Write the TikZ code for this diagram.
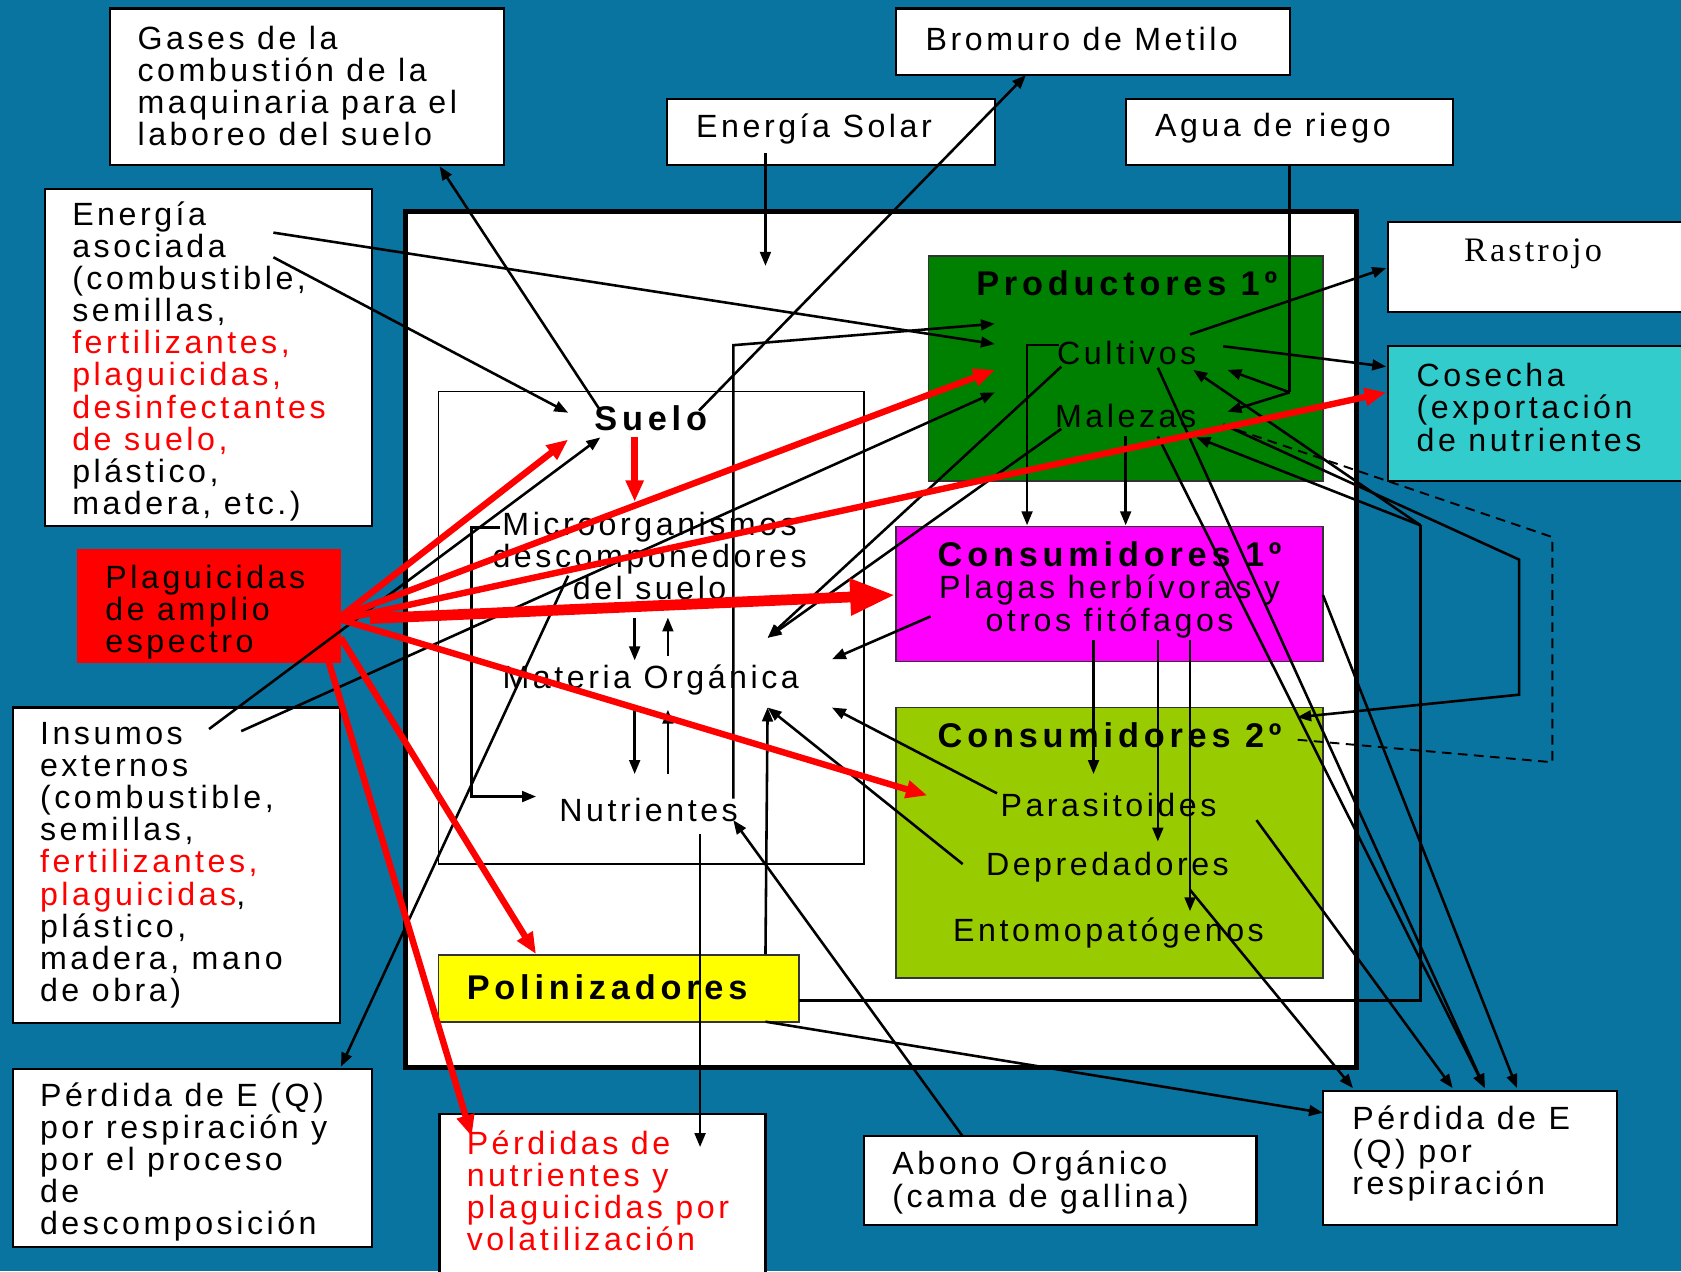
\documentclass[tikz,border=0pt]{standalone}
\usepackage{fontspec}
\setmainfont{Liberation Sans}[LetterSpace=11]
\newfontfamily\boldsf{Liberation Sans}[LetterSpace=14]
\newfontfamily\serifls{Liberation Serif}[LetterSpace=9]
\usetikzlibrary{arrows.meta,fit}
\definecolor{bg}{RGB}{9,116,160}
\definecolor{prodgreen}{RGB}{0,128,0}
\definecolor{cmag}{RGB}{255,0,255}
\definecolor{cgreen}{RGB}{153,204,0}
\definecolor{cteal}{RGB}{51,204,204}
\definecolor{cyel}{RGB}{255,255,0}
\definecolor{pred}{RGB}{255,0,0}
\begin{document}
\begin{tikzpicture}[x=0.5pt,y=-0.5pt,
  box/.style={draw=black, line width=1pt, fill=white, inner sep=0pt},
  cbox/.style={draw=black!80, line width=0.8pt, inner sep=0pt},
  txt/.style={font=\fontsize{15}{15}\selectfont, align=left, inner sep=0pt, anchor=west, yshift=-1.5pt},
  ctxt/.style={font=\fontsize{15}{15}\selectfont, align=center, inner sep=0pt, yshift=-0.8pt},
  btxt/.style={font=\boldsf\bfseries\fontsize{16}{16}\selectfont, inner sep=0pt},
  ln/.style={line width=1.2pt},
  arr/.style={line width=1.2pt, -{Triangle[length=6.5pt,width=5pt]}},
  rarr/.style={draw=pred, line width=3pt, -{Triangle[length=10pt,width=8pt]}},
  bigrarr/.style={draw=pred, line width=5pt, -{Triangle[length=21pt,width=16pt]}},
  dsh/.style={line width=0.9pt, dash pattern=on 4.5pt off 3pt}
]
\useasboundingbox (0,0) rectangle (1568,1186);
\fill[bg] (0,0) rectangle (1568,1186);

% ---------- outer boxes ----------
\node[box, fit={(103,8) (470,154)}] (gases) {};
\node[box, fit={(836,8) (1203,70)}] (bromuro) {};
\node[box, fit={(622,92) (928,154)}] (solar) {};
\node[box, fit={(1050,92) (1355,154)}] (agua) {};
\node[box, fit={(42,176) (347,491)}] (easoc) {};
\node[fill=pred, inner sep=0pt, fit={(72,512) (318,618)}] (plag) {};
\node[box, fit={(12,660) (317,954)}] (insumos) {};
\node[box, fit={(12,997) (347,1163)}] (perdL) {};
\node[box, fit={(410,1039) (714,1195)}] (perdN) {};
\node[box, fit={(806,1060) (1172,1143)}] (abono) {};
\node[box, fit={(1234,1018) (1508,1143)}] (perdR) {};
\node[box, fit={(1295,207) (1580,291)}] (rastrojo) {};
\node[box, fill=cteal, fit={(1295,323) (1580,449)}] (cosecha) {};

\node[txt] (gases-t) at (128,77) {Gases de la\\combustión de la\\maquinaria para el\\laboreo del suelo};
\node[txt] (bromuro-t) at (863,33) {Bromuro de Metilo};
\node[txt] (solar-t) at (649,117) {Energía Solar};
\node[txt] (agua-t) at (1077,117) {Agua de riego};
\node[txt] (easoc-t) at (67,334) {Energía\\asociada\\(combustible,\\semillas,\\\textcolor{pred}{fertilizantes,}\\\textcolor{pred}{plaguicidas,}\\\textcolor{pred}{desinfectantes}\\\textcolor{pred}{de suelo,}\\plástico,\\madera, etc.)};
\node[txt] (plag-t) at (98,568) {Plaguicidas\\de amplio\\espectro};
\node[txt] (insumos-t) at (37,804) {Insumos\\externos\\(combustible,\\semillas,\\\textcolor{pred}{fertilizantes,}\\\textcolor{pred}{plaguicidas},\\plástico,\\madera, mano\\de obra)};
\node[txt] (perdL-t) at (37,1081) {Pérdida de E (Q)\\por respiración y\\por el proceso\\de\\descomposición};
\node[txt, text=pred] (perdN-t) at (435,1108) {Pérdidas de\\nutrientes y\\plaguicidas por\\volatilización};
\node[txt] (abono-t) at (832,1100) {Abono Orgánico\\(cama de gallina)};
\node[txt] (perdR-t) at (1261,1073) {Pérdida de E\\(Q) por\\respiración};
\node[font=\serifls\fontsize{16}{16}\selectfont, inner sep=0pt] (rastrojo-t) at (1430,237) {Rastrojo};
\node[txt] (cosecha-t) at (1321,377) {Cosecha\\(exportación\\de nutrientes};

% ---------- system ----------
\node[draw=black, line width=2.5pt, fill=white, inner sep=0pt, fit={(378,197) (1265,996)}] (sys) {};
\node[draw=black, line width=0.7pt, inner sep=0pt, fit={(409,365) (806,806)}] (soil) {};
\node[cbox, fill=prodgreen, fit={(866,239) (1234,449)}] (prod) {};
\node[cbox, fill=cmag, fit={(836,491) (1234,617)}] (cons1) {};
\node[cbox, fill=cgreen, fit={(836,660) (1234,912)}] (cons2) {};
\node[cbox, fill=cyel, fit={(409,891) (745,953)}] (polin) {};

\node[btxt] (prod-t) at (1051,264) {Productores 1º};
\node[ctxt] (cultivos) at (1051,328) {Cultivos};
\node[ctxt] (malezas) at (1050,386) {Malezas};
\node[btxt] (cons1-t) at (1035,517) {Consumidores 1º};
\node[ctxt, font=\fontsize{15}{15.5}\selectfont] (plagas) at (1035,564) {Plagas herbívoras y\\otros fitófagos};
\node[btxt] (cons2-t) at (1035,686) {Consumidores 2º};
\node[ctxt] (parasit) at (1034,749) {Parasitoides};
\node[ctxt] (depred) at (1033,807) {Depredadores};
\node[ctxt] (entomo) at (1034,869) {Entomopatógenos};
\node[btxt, anchor=west] (polin-t) at (435,921) {Polinizadores};
\node[btxt] (suelo) at (607,390) {Suelo};
\node[ctxt, font=\fontsize{15}{14.8}\selectfont] (micro) at (606,517) {Microorganismos\\descomponedores\\del suelo};
\node[ctxt] (materia) at (607,633) {Materia Orgánica};
\node[ctxt] (nutri) at (605,754) {Nutrientes};

% ---------- coordinates ----------
\coordinate (ea1) at (255,217);  \coordinate (pr-a) at (928,321);
\coordinate (ea2) at (255,240);  \coordinate (su-a) at (530,385);
\coordinate (in1) at (195,680);  \coordinate (su-b) at (560,408);
\coordinate (in2) at (225,682);  \coordinate (pr-b) at (928,366);
\coordinate (su-c) at (560,383); \coordinate (ga-b) at (410,155);
\coordinate (su-d) at (652,383); \coordinate (br-b) at (957,70);
\coordinate (so-b) at (714,143); \coordinate (so-e) at (714,248);
\coordinate (ag-b) at (1203,154); \coordinate (ag-j) at (1203,366);
\coordinate (cu-r) at (1145,345); \coordinate (ma-r) at (1145,384);
\coordinate (nu-v) at (684,745); \coordinate (nu-t) at (684,322); \coordinate (pr-c) at (928,302);
\coordinate (mi-l) at (466,492); \coordinate (l1) at (440,492); \coordinate (l2) at (440,743); \coordinate (nu-l) at (500,743);
\coordinate (a1s) at (592,576); \coordinate (a1e) at (592,616);
\coordinate (a2s) at (623,612); \coordinate (a2e) at (623,576);
\coordinate (a3s) at (592,662); \coordinate (a3e) at (592,722);
\coordinate (a4s) at (623,722); \coordinate (a4e) at (623,662);
\coordinate (nu-b) at (653,778); \coordinate (pn-t) at (653,1070);
\coordinate (mi-b) at (530,537); \coordinate (pl-t) at (318,995);
\coordinate (cu-d) at (990,342); \coordinate (ma-d) at (990,400); \coordinate (mo-a) at (716,595);
\coordinate (pg-l) at (868,575); \coordinate (mo-b) at (776,615);
\coordinate (pa-l) at (930,740); \coordinate (mo-c) at (776,660);
\coordinate (de-l) at (898,806); \coordinate (mo-d) at (716,660);
\coordinate (po-t) at (714,890);
\coordinate (ab-t) at (898,1060); \coordinate (nu-r) at (684,765);
\coordinate (po-b) at (714,953); \coordinate (pr-l) at (1234,1038);
\coordinate (po-r) at (745,933); \coordinate (p1) at (1325,933); \coordinate (p2) at (1325,490);
\coordinate (cu-x) at (1113,345); \coordinate (ma-x) at (1116,408);
\coordinate (ma-s) at (1141,396); \coordinate (q1) at (1417,522); \coordinate (q2) at (1417,648); \coordinate (c2-a) at (1210,669);
\coordinate (ma-t) at (1154,401); \coordinate (d1) at (1448,501); \coordinate (d2) at (1448,711); \coordinate (c2-b) at (1210,690);
\coordinate (cu-c) at (1141,323); \coordinate (co-a) at (1293,342);
\coordinate (cu-ra) at (1110,312); \coordinate (ra-a) at (1293,250);
\coordinate (cu-l) at (988,322); \coordinate (k1) at (958,322); \coordinate (c1-a) at (958,490);
\coordinate (ma-b) at (1050,407); \coordinate (c1-b) at (1050,490);
\coordinate (pg-1) at (1020,597); \coordinate (pa-t) at (1020,722);
\coordinate (pg-2) at (1080,597); \coordinate (de-t) at (1080,785);
\coordinate (pg-3) at (1110,597); \coordinate (en-t) at (1110,850);
\coordinate (en-r) at (1110,830); \coordinate (pr-1) at (1262,1015);
\coordinate (pa-r) at (1172,765); \coordinate (pr-2) at (1355,1015);
\coordinate (c1-r) at (1234,555); \coordinate (pr-4) at (1415,1015);
\coordinate (cu-b) at (1080,343); \coordinate (ma-bb) at (1080,407); \coordinate (pr-3) at (1385,1015);
% red
\coordinate (rp1) at (318,575); \coordinate (rp2) at (318,578); \coordinate (rp3) at (345,577);
\coordinate (rp4) at (318,595); \coordinate (rp5) at (305,612);
\coordinate (rs-t) at (592,408); \coordinate (rs-b) at (592,468);
\coordinate (r-su) at (530,410); \coordinate (r-pr) at (928,345); \coordinate (r-co) at (1293,366);
\coordinate (r-c2) at (865,742); \coordinate (r-po) at (500,890); \coordinate (r-pn) at (440,1060);
\coordinate (r-c1) at (835,555);

% ---------- black connectors ----------
\draw[arr] (ea1) -- (pr-a);
\draw[arr] (ea2) -- (su-a);
\draw[arr] (in1) -- (su-b);
\draw[arr] (in2) -- (pr-b);
\draw[arr] (su-c) -- (ga-b);
\draw[arr] (su-d) -- (br-b);
\draw[arr] (so-b) -- (so-e);
\draw[ln] (ag-b) -- (ag-j);
\draw[arr] (ag-j) -- (cu-r);
\draw[arr] (ag-j) -- (ma-r);
\draw[arr] (nu-v) -- (nu-t) -- (pr-c);
\draw[arr] (mi-l) -- (l1) -- (l2) -- (nu-l);
\draw[arr] (a1s) -- (a1e);
\draw[arr] (a2s) -- (a2e);
\draw[arr] (a3s) -- (a3e);
\draw[arr] (a4s) -- (a4e);
\draw[arr] (nu-b) -- (pn-t);
\draw[arr] (mi-b) -- (pl-t);
\draw[arr] (cu-d) -- (mo-a);
\draw[arr] (ma-d) -- (mo-a);
\draw[arr] (pg-l) -- (mo-b);
\draw[arr] (pa-l) -- (mo-c);
\draw[arr] (de-l) -- (mo-d);
\draw[arr] (po-t) -- (mo-d);
\draw[arr] (ab-t) -- (nu-r);
\draw[arr] (po-b) -- (pr-l);
\draw[ln] (po-r) -- (p1) -- (p2);
\draw[arr] (p2) -- (cu-x);
\draw[arr] (p2) -- (ma-x);
\draw[arr] (ma-s) -- (q1) -- (q2) -- (c2-a);
\draw[dsh] (ma-t) -- (d1) -- (d2) -- (c2-b);
\draw[arr] (cu-c) -- (co-a);
\draw[arr] (cu-ra) -- (ra-a);
\draw[arr] (cu-l) -- (k1) -- (c1-a);
\draw[arr] (ma-b) -- (c1-b);
\draw[arr] (pg-1) -- (pa-t);
\draw[arr] (pg-2) -- (de-t);
\draw[arr] (pg-3) -- (en-t);
\draw[arr] (en-r) -- (pr-1);
\draw[arr] (pa-r) -- (pr-2);
\draw[arr] (c1-r) -- (pr-4);
\draw[arr] (cu-b) -- (pr-3);
\draw[arr] (ma-bb) -- (pr-3);

% ---------- red connectors ----------
\draw[rarr] (rs-t) -- (rs-b);
\draw[rarr] (rp1) -- (r-su);
\draw[rarr] (rp1) -- (r-pr);
\draw[rarr] (rp2) -- (r-co);
\draw[rarr] (rp2) -- (r-c2);
\draw[rarr] (rp4) -- (r-po);
\draw[rarr] (rp5) -- (r-pn);
\draw[bigrarr] (rp3) -- (r-c1);
\end{tikzpicture}
\end{document}
